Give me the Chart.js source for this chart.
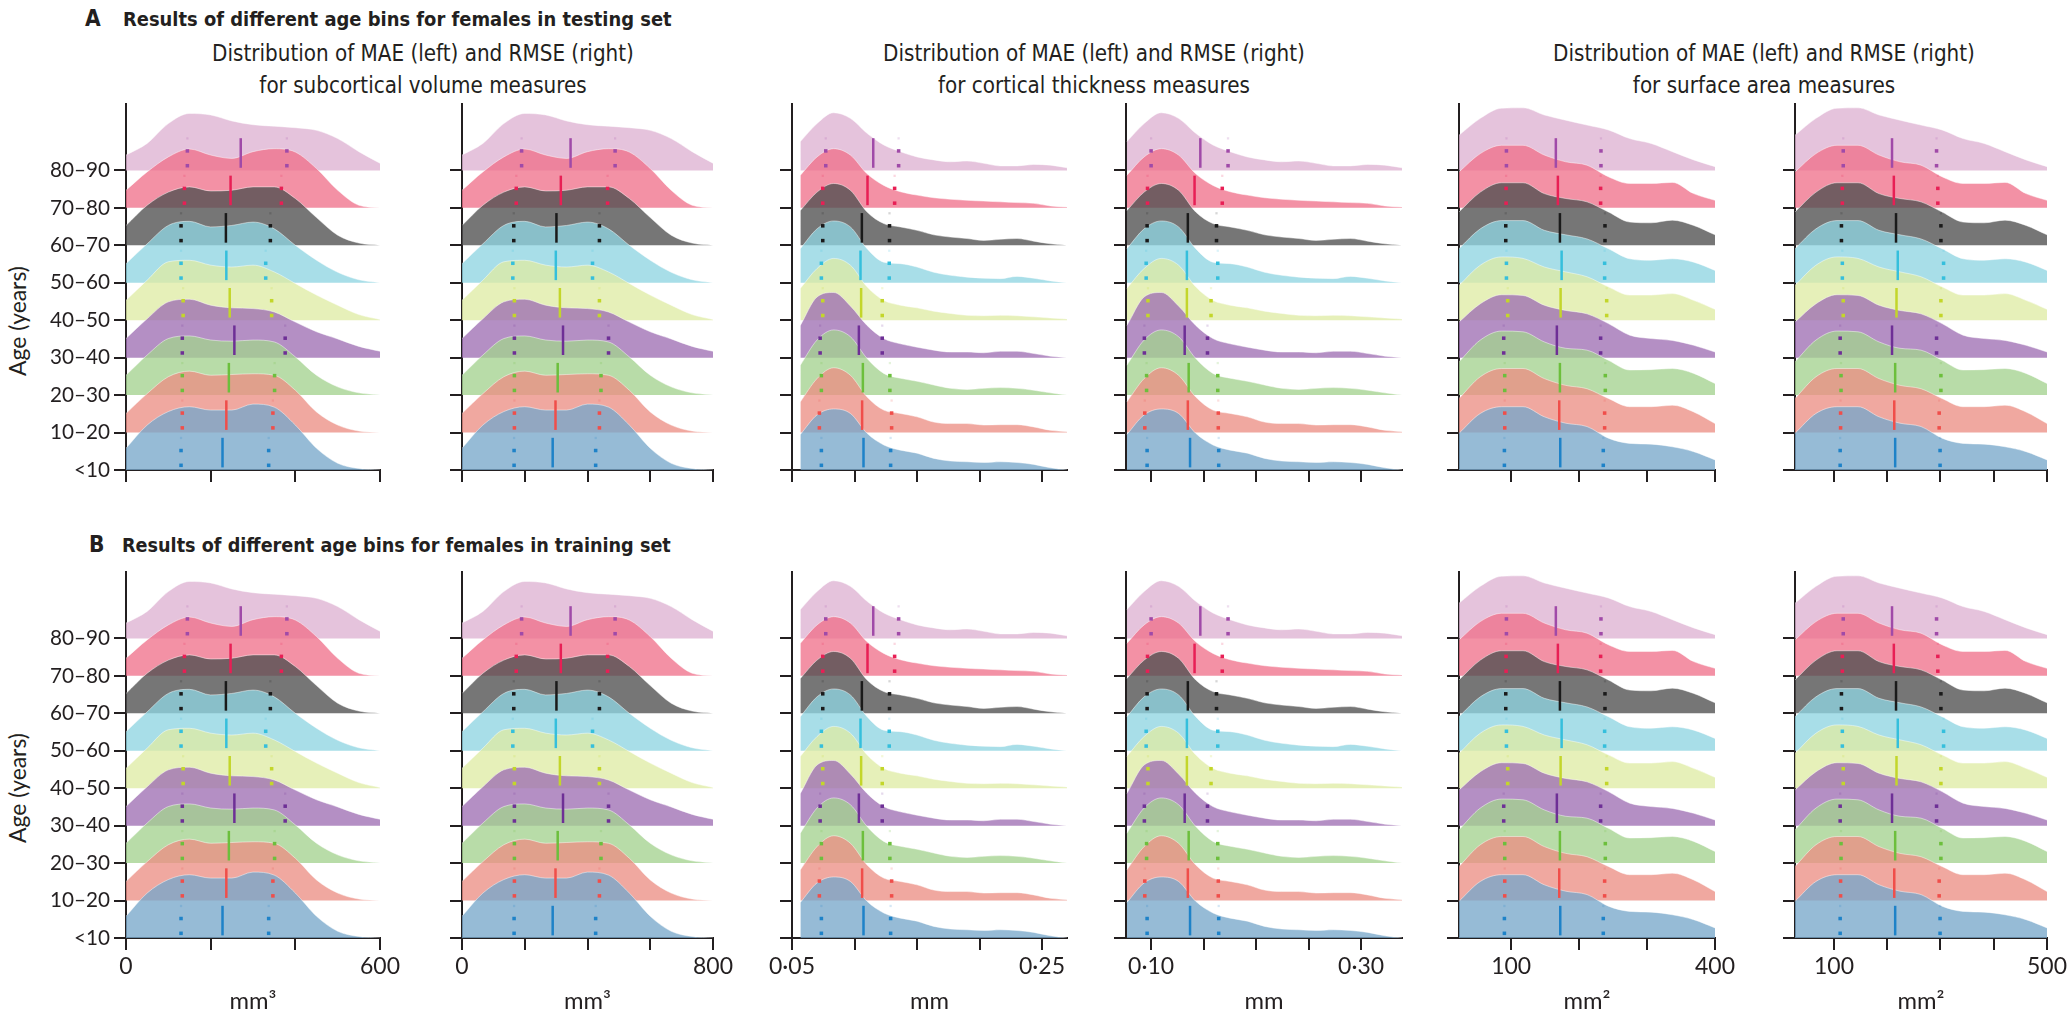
<!DOCTYPE html>
<html>
<head>
<meta charset="utf-8">
<script src="https://cdn.jsdelivr.net/npm/chart.js@4.4.1/dist/chart.umd.min.js"></script>
<style>
  html, body { margin: 0; padding: 0; background: #fff; }
  body { width: 2070px; height: 1017px; position: relative; overflow: hidden; font-family: Lato, sans-serif; color: #231f20; }
  canvas { position: absolute; }
  .t { position: absolute; white-space: nowrap; transform: translateY(-50%); font-family: 'Liberation Sans Narrow', 'DejaVu Sans Condensed', sans-serif; font-weight: bold; font-size: 23px; }
  .head { position: absolute; white-space: nowrap; transform: translate(-50%, -50%); font-family: 'Liberation Sans Narrow', 'DejaVu Sans Condensed', sans-serif; font-size: 24px; }
  .age { position: absolute; white-space: nowrap; transform: translate(-50%, -50%) rotate(-90deg); font-family: Lato, sans-serif; font-size: 22px; }
</style>
</head>
<body>
<div class="t letter" style="left:85px;top:18px">A</div>
<div class="t title" style="left:123px;top:19px">Results of different age bins for females in testing set</div>
<div class="t letter" style="left:89px;top:544px">B</div>
<div class="t title" style="left:122px;top:545px">Results of different age bins for females in training set</div>

<div class="head first" style="left:423px;top:53px">Distribution of MAE (left) and RMSE (right)</div>
<div class="head" style="left:423px;top:85px">for subcortical volume measures</div>
<div class="head" style="left:1094px;top:53px">Distribution of MAE (left) and RMSE (right)</div>
<div class="head" style="left:1094px;top:85px">for cortical thickness measures</div>
<div class="head" style="left:1764px;top:53px">Distribution of MAE (left) and RMSE (right)</div>
<div class="head" style="left:1764px;top:85px">for surface area measures</div>

<div class="age" style="left:17px;top:321px">Age (years)</div>
<div class="age" style="left:17px;top:788px">Age (years)</div>

<script>
'use strict';

// age bins, bottom ridge first
let ageBins = ['<10', '10–20', '20–30', '30–40', '40–50', '50–60', '60–70', '70–80', '80–90'];
let fillColours = ['rgba(120,168,202,0.78)', 'rgba(236,144,133,0.78)', 'rgba(164,210,143,0.78)', 'rgba(159,112,179,0.78)',
    'rgba(223,236,165,0.78)', 'rgba(144,213,225,0.78)', 'rgba(80,80,80,0.78)', 'rgba(240,114,140,0.78)', 'rgba(222,178,210,0.78)'];
let lineColours = ['#1e82c8', '#f04e4a', '#6cbf3c', '#6e2f96', '#c3d62a', '#35bfdc', '#1a1a1a', '#e81f55', '#a04aa8'];

// ridge heights (in rows) read at evenly spaced points from the start to the end of each curve
let subcorticalDensity = [
    [0.58, 1.2, 1.56, 1.69, 1.6, 1.6, 1.76, 1.68, 1.2, 0.58, 0.18, 0.04, 0.0],
    [0.51, 1.04, 1.49, 1.64, 1.53, 1.55, 1.57, 1.53, 1.13, 0.55, 0.2, 0.04, 0.0],
    [0.53, 1.07, 1.51, 1.58, 1.47, 1.44, 1.47, 1.42, 1.02, 0.53, 0.22, 0.06, 0.0],
    [0.51, 1.04, 1.49, 1.56, 1.4, 1.33, 1.31, 1.22, 0.95, 0.69, 0.5, 0.3, 0.17],
    [0.53, 1.07, 1.56, 1.6, 1.47, 1.42, 1.47, 1.29, 0.98, 0.67, 0.4, 0.15, 0.02],
    [0.51, 1.04, 1.53, 1.64, 1.49, 1.53, 1.62, 1.44, 1.0, 0.6, 0.28, 0.08, 0.0],
    [0.53, 1.07, 1.42, 1.56, 1.45, 1.47, 1.56, 1.56, 1.25, 0.74, 0.27, 0.06, 0.0],
    [0.47, 0.96, 1.36, 1.57, 1.41, 1.32, 1.5, 1.58, 1.49, 1.05, 0.47, 0.07, 0.0],
    [0.41, 0.72, 1.25, 1.52, 1.48, 1.32, 1.22, 1.18, 1.14, 1.07, 0.85, 0.5, 0.19]
];
let thicknessDensity = [
    [0.95, 1.47, 1.63, 1.51, 0.98, 0.67, 0.53, 0.45, 0.31, 0.24, 0.22, 0.2, 0.22, 0.2, 0.15, 0.06, 0.0],
    [0.82, 1.44, 1.73, 1.53, 0.95, 0.6, 0.51, 0.42, 0.28, 0.24, 0.24, 0.2, 0.21, 0.21, 0.15, 0.06, 0.02],
    [0.8, 1.47, 1.74, 1.56, 0.98, 0.58, 0.45, 0.37, 0.27, 0.18, 0.15, 0.18, 0.2, 0.18, 0.13, 0.06, 0.0],
    [0.86, 1.62, 1.74, 1.38, 0.86, 0.51, 0.37, 0.28, 0.2, 0.15, 0.15, 0.13, 0.17, 0.17, 0.11, 0.04, 0.0],
    [0.85, 1.38, 1.65, 1.47, 0.89, 0.53, 0.4, 0.33, 0.24, 0.18, 0.13, 0.12, 0.13, 0.12, 0.09, 0.06, 0.03],
    [0.91, 1.44, 1.65, 1.49, 0.91, 0.55, 0.51, 0.42, 0.28, 0.2, 0.15, 0.12, 0.11, 0.17, 0.12, 0.05, 0.0],
    [0.93, 1.42, 1.65, 1.47, 0.89, 0.58, 0.49, 0.4, 0.28, 0.22, 0.18, 0.13, 0.16, 0.18, 0.11, 0.04, 0.0],
    [0.87, 1.36, 1.58, 1.41, 0.91, 0.6, 0.43, 0.34, 0.27, 0.23, 0.2, 0.18, 0.16, 0.14, 0.12, 0.05, 0.02],
    [0.77, 1.25, 1.54, 1.39, 0.99, 0.68, 0.5, 0.36, 0.28, 0.23, 0.25, 0.19, 0.12, 0.12, 0.16, 0.14, 0.07]
];
let surfaceDensity = [
    [0.98, 1.51, 1.69, 1.69, 1.42, 1.25, 1.16, 0.85, 0.71, 0.69, 0.62, 0.49, 0.27],
    [0.91, 1.49, 1.71, 1.71, 1.44, 1.26, 1.17, 0.91, 0.69, 0.69, 0.73, 0.55, 0.24],
    [0.89, 1.47, 1.71, 1.69, 1.42, 1.25, 1.2, 0.93, 0.67, 0.68, 0.71, 0.58, 0.31],
    [0.95, 1.44, 1.68, 1.66, 1.4, 1.26, 1.17, 0.91, 0.6, 0.51, 0.46, 0.33, 0.15],
    [0.93, 1.47, 1.69, 1.65, 1.42, 1.29, 1.16, 0.89, 0.67, 0.67, 0.71, 0.53, 0.29],
    [0.91, 1.44, 1.66, 1.66, 1.4, 1.28, 1.17, 0.91, 0.64, 0.6, 0.64, 0.55, 0.33],
    [0.89, 1.42, 1.67, 1.67, 1.38, 1.25, 1.16, 0.89, 0.62, 0.6, 0.67, 0.53, 0.28],
    [0.96, 1.45, 1.67, 1.67, 1.41, 1.23, 1.14, 0.83, 0.65, 0.65, 0.68, 0.38, 0.2],
    [0.94, 1.39, 1.66, 1.67, 1.48, 1.34, 1.21, 1.08, 0.85, 0.72, 0.5, 0.28, 0.1]
];

// quartiles per age bin (bottom first); testing and training look the same
let subMaeQ1 = [130, 133, 133, 133, 135, 130, 130, 138, 145];
let subMaeMedian = [228, 237, 243, 256, 245, 237, 236, 247, 271];
let subMaeQ3 = [337, 347, 351, 376, 344, 330, 341, 367, 380];
let subRmseQ1 = [166, 167, 167, 167, 167, 162, 165, 173, 190];
let subRmseMedian = [289, 298, 305, 322, 312, 299, 301, 315, 346];
let subRmseQ3 = [426, 438, 443, 467, 438, 416, 438, 464, 488];
let thickMaeQ1 = [0.0735, 0.0719, 0.0735, 0.0725, 0.0746, 0.0735, 0.0746, 0.0746, 0.077];
let thickMaeMedian = [0.1072, 0.1061, 0.1067, 0.1035, 0.1053, 0.1048, 0.1059, 0.1104, 0.115];
let thickMaeQ3 = [0.1289, 0.1297, 0.1283, 0.1222, 0.1222, 0.1278, 0.128, 0.1321, 0.1353];
let thickRmseQ1 = [0.0962, 0.094, 0.0957, 0.0936, 0.097, 0.0953, 0.0962, 0.0966, 0.1];
let thickRmseMedian = [0.1371, 0.135, 0.1358, 0.132, 0.1341, 0.1341, 0.135, 0.1414, 0.1469];
let thickRmseQ3 = [0.1644, 0.164, 0.1635, 0.1537, 0.1571, 0.1635, 0.1623, 0.1678, 0.1733];
let surfMaeQ1 = [90.1, 90.6, 90.6, 89.1, 95, 93.1, 92.1, 92.6, 93.1];
let surfMaeMedian = [172.3, 170.8, 171.8, 167.3, 172.8, 174.3, 171.8, 168.8, 165.8];
let surfMaeQ3 = [235.6, 237.6, 238.6, 231.7, 240.6, 237.6, 238.1, 231.7, 232.2];
let surfRmseQ1 = [111.6, 112.4, 113.2, 111.6, 117.4, 115.7, 114, 115.7, 117.4];
let surfRmseMedian = [214.9, 213.2, 214.9, 209, 217.4, 219.8, 216.5, 212.4, 209];
let surfRmseQ3 = [299.2, 297.5, 300.8, 292.6, 300.8, 305.8, 300.8, 295, 292.6];

// axes of the six panels in one row
let panelMin = [0, 0, 0.05, 0.0761, 23.3, 26.8];
let panelMax = [600, 800, 0.27, 0.339, 400, 500];
let curveStart = [0, 0, 0.0567, 0.077, 23.3, 26.8];
let panelTicks = [[0, 200, 400, 600], [0, 200, 400, 600, 800], [0.05, 0.1, 0.15, 0.2, 0.25],
    [0.1, 0.15, 0.2, 0.25, 0.3], [100, 200, 300, 400], [100, 200, 300, 400, 500]];
let tickLabels = [['0', '600'], ['0', '800'], ['0·05', '0·25'], ['0·10', '0·30'], ['100', '400'], ['100', '500']];
let unitLabels = ['mm³', 'mm³', 'mm', 'mm', 'mm²', 'mm²'];

let panelDensity = [subcorticalDensity, subcorticalDensity, thicknessDensity, thicknessDensity, surfaceDensity, surfaceDensity];
let panelQ1 = [subMaeQ1, subRmseQ1, thickMaeQ1, thickRmseQ1, surfMaeQ1, surfRmseQ1];
let panelMedian = [subMaeMedian, subRmseMedian, thickMaeMedian, thickRmseMedian, surfMaeMedian, surfRmseMedian];
let panelQ3 = [subMaeQ3, subRmseQ3, thickMaeQ3, thickRmseQ3, surfMaeQ3, surfRmseQ3];

// page layout
let panelLeft = [126, 462, 792, 1126, 1459, 1795];
let panelRight = [380, 713, 1067, 1402, 1715, 2047];
let rowTop = [104, 572];
let rowBase = [470, 938];
let rowStep = 37.45;
let ink = '#231f20';

// canvas text: size so that a sample string gets the width it has in the picture
let measureCtx = document.createElement('canvas').getContext('2d');
function fitSize(text, target) {
    measureCtx.font = 'normal 100px Lato';
    let s = 100 * target / measureCtx.measureText(text).width;
    return Math.max(16, Math.min(30, s));
}
// page text: the same, measured on the element itself
function fitElement(el, target) {
    el.style.fontSize = '100px';
    let s = 100 * target / el.offsetWidth;
    el.style.fontSize = s + 'px';
    return s;
}

let yTickSize = fitSize('10–20', 60);
let xTickSize = fitSize('600', 40);
let unitSize = fitSize('mm³', 47);

let titleSize = 23;
document.querySelectorAll('.title').forEach(el => { titleSize = fitElement(el, 549); });
document.querySelectorAll('.letter').forEach(el => { el.style.fontSize = (titleSize * 1.15) + 'px'; });
let headSize = fitElement(document.querySelector('.head.first'), 422);
document.querySelectorAll('.head').forEach(el => { el.style.fontSize = headSize + 'px'; });
document.querySelectorAll('.age').forEach(el => { fitElement(el, 110); });

Chart.defaults.font.family = 'Lato';
Chart.defaults.color = ink;

function fadeColour(hex, a) {
    let n = parseInt(hex.slice(1), 16);
    return `rgba(${n >> 16},${(n >> 8) & 255},${n & 255},${a})`;
}

function makePanel(row, p) {
    let yW = p === 0 ? 126 : 40;
    let xH = row === 1 ? 78 : 20;
    let padTop = 10;
    let padRight = 32;
    let w = yW + (panelRight[p] - panelLeft[p]) + padRight;
    let h = padTop + (rowBase[row] - rowTop[row]) + xH;
    let yMax = (rowBase[row] - rowTop[row]) / rowStep;

    let canvas = document.createElement('canvas');
    canvas.width = w;
    canvas.height = h;
    canvas.style.left = (panelLeft[p] - yW) + 'px';
    canvas.style.top = (rowTop[row] - padTop) + 'px';
    canvas.style.width = w + 'px';
    canvas.style.height = h + 'px';
    document.body.appendChild(canvas);

    let datasets = [];
    for (let i = 0; i < ageBins.length; i++) {
        let hs = panelDensity[p][i];
        let step = (panelMax[p] - curveStart[p]) / (hs.length - 1);
        datasets.push({
            data: hs.map((v, k) => ({ x: curveStart[p] + k * step, y: i + v })),
            fill: { value: i },
            backgroundColor: fillColours[i],
            borderColor: 'rgba(255,255,255,0.45)',
            borderWidth: 1,
            pointRadius: 0,
            cubicInterpolationMode: 'monotone',
            order: 1 + i
        });
        let med = panelMedian[p][i];
        datasets.push({
            data: [{ x: med, y: i + 0.07 }, { x: med, y: i + 0.86 }],
            borderColor: lineColours[i],
            borderWidth: 2.5,
            pointRadius: 0,
            fill: false,
            order: 0
        });
        let q1 = panelQ1[p][i];
        let q3 = panelQ3[p][i];
        datasets.push({
            data: [{ x: q1, y: i + 0.125 }, { x: q1, y: i + 0.52 }, { x: q3, y: i + 0.125 }, { x: q3, y: i + 0.52 }],
            showLine: false,
            pointStyle: 'rect',
            pointRadius: 2.5,
            pointBorderWidth: 0,
            pointBackgroundColor: lineColours[i],
            order: 0
        });
        datasets.push({
            data: [{ x: q1, y: i + 0.855 }, { x: q3, y: i + 0.855 }],
            showLine: false,
            pointStyle: 'rect',
            pointRadius: 1.6,
            pointBorderWidth: 0,
            pointBackgroundColor: fadeColour(lineColours[i], 0.18),
            order: 0
        });
    }

    let axisGrid = { drawOnChartArea: false, drawTicks: true, tickLength: 12, lineWidth: 2, color: ink };
    let axisBorder = { display: true, width: 2, color: ink };

    new Chart(canvas.getContext('2d'), {
        type: 'line',
        data: { datasets: datasets },
        options: {
            responsive: false,
            animation: false,
            events: [],
            layout: { padding: { top: padTop, right: padRight, left: 0, bottom: 0 } },
            plugins: { legend: { display: false }, tooltip: { enabled: false } },
            scales: {
                x: {
                    type: 'linear',
                    min: panelMin[p],
                    max: panelMax[p],
                    z: 1,
                    afterBuildTicks: s => { s.ticks = panelTicks[p].map(v => ({ value: v })); },
                    afterFit: s => { s.height = xH; s.paddingLeft = 0; s.paddingRight = 0; },
                    ticks: {
                        autoSkip: false,
                        maxRotation: 0,
                        padding: 3,
                        font: { family: 'Lato', size: xTickSize },
                        callback: (v, idx, ticks) => {
                            if (row !== 1) return '';
                            if (idx === 0) return tickLabels[p][0];
                            if (idx === ticks.length - 1) return tickLabels[p][1];
                            return '';
                        }
                    },
                    grid: axisGrid,
                    border: axisBorder,
                    title: { display: row === 1, text: unitLabels[p], font: { family: 'Lato', size: unitSize }, padding: { top: 0, bottom: 0 }, color: ink }
                },
                y: {
                    type: 'linear',
                    min: 0,
                    max: yMax,
                    z: 1,
                    afterBuildTicks: s => { s.ticks = ageBins.map((b, i) => ({ value: i })); },
                    afterFit: s => { s.width = yW; s.paddingTop = 0; s.paddingBottom = 0; },
                    ticks: {
                        autoSkip: false,
                        padding: 4,
                        font: { family: 'Lato', size: yTickSize },
                        callback: (v, idx) => p === 0 ? ageBins[idx] : ''
                    },
                    grid: axisGrid,
                    border: axisBorder
                }
            }
        }
    });
}

for (let row = 0; row < 2; row++) {
    for (let p = 0; p < 6; p++) {
        makePanel(row, p);
    }
}
</script>
</body>
</html>
